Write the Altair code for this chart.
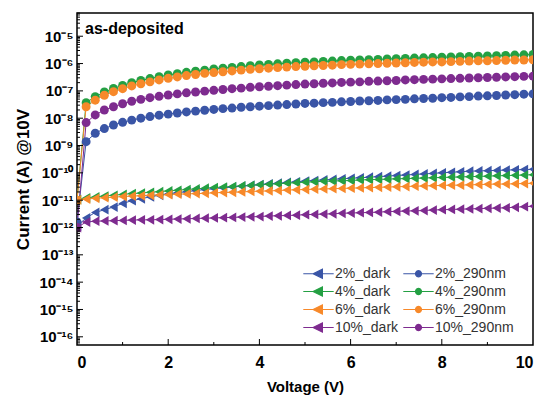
import altair as alt
import pandas as pd

FONT = "Liberation Sans"

# Voltage sweep (V), 0.2 V steps
V = [round(0.2 * i, 1) for i in range(51)]

# log10 of current (A)
B_dark = [-11.95, -11.65, -11.45, -11.35, -11.25, -11.12, -11.02, -10.95, -10.88, -10.82,
          -10.77, -10.73, -10.69, -10.65, -10.61, -10.58, -10.55, -10.52, -10.49, -10.46,
          -10.43, -10.40, -10.38, -10.35, -10.33, -10.30, -10.28, -10.26, -10.24, -10.22,
          -10.20, -10.18, -10.16, -10.14, -10.12, -10.10, -10.08, -10.06, -10.04, -10.02,
          -10.00, -9.98, -9.96, -9.94, -9.93, -9.92, -9.91, -9.90, -9.89, -9.88, -9.87]
B_uv = [-11.80, -8.86, -8.55, -8.38, -8.25, -8.15, -8.07, -8.00, -7.94, -7.89,
        -7.85, -7.81, -7.77, -7.74, -7.71, -7.68, -7.65, -7.63, -7.60, -7.58,
        -7.56, -7.54, -7.52, -7.50, -7.48, -7.46, -7.45, -7.43, -7.42, -7.40,
        -7.39, -7.37, -7.36, -7.35, -7.33, -7.32, -7.31, -7.29, -7.28, -7.27,
        -7.25, -7.24, -7.22, -7.21, -7.19, -7.18, -7.17, -7.15, -7.14, -7.12, -7.11]
G_dark = [-10.98, -10.92, -10.88, -10.85, -10.82, -10.79, -10.76, -10.74, -10.71, -10.69,
          -10.66, -10.64, -10.61, -10.59, -10.56, -10.54, -10.52, -10.50, -10.48, -10.46,
          -10.44, -10.42, -10.40, -10.38, -10.36, -10.34, -10.33, -10.31, -10.30, -10.29,
          -10.28, -10.26, -10.25, -10.24, -10.23, -10.22, -10.21, -10.20, -10.19, -10.18,
          -10.17, -10.16, -10.15, -10.14, -10.13, -10.12, -10.11, -10.10, -10.09, -10.08, -10.07]
G_uv = [-11.00, -7.43, -7.21, -7.04, -6.91, -6.80, -6.70, -6.62, -6.55, -6.48,
        -6.42, -6.37, -6.32, -6.28, -6.24, -6.20, -6.17, -6.14, -6.11, -6.08,
        -6.05, -6.03, -6.01, -5.99, -5.97, -5.95, -5.94, -5.92, -5.91, -5.89,
        -5.88, -5.87, -5.86, -5.85, -5.83, -5.82, -5.81, -5.80, -5.79, -5.78,
        -5.77, -5.76, -5.75, -5.74, -5.73, -5.72, -5.71, -5.70, -5.69, -5.68, -5.67]
O_dark = [-10.99, -10.96, -10.93, -10.91, -10.89, -10.87, -10.85, -10.84, -10.82, -10.81,
          -10.80, -10.78, -10.77, -10.76, -10.75, -10.73, -10.72, -10.71, -10.70, -10.68,
          -10.67, -10.66, -10.65, -10.63, -10.62, -10.61, -10.60, -10.59, -10.58, -10.57,
          -10.56, -10.55, -10.54, -10.53, -10.52, -10.51, -10.50, -10.49, -10.48, -10.47,
          -10.46, -10.45, -10.45, -10.44, -10.43, -10.42, -10.41, -10.41, -10.40, -10.39, -10.38]
O_uv = [-11.00, -7.58, -7.34, -7.16, -7.03, -6.92, -6.82, -6.74, -6.67, -6.60,
        -6.54, -6.49, -6.44, -6.40, -6.36, -6.33, -6.30, -6.27, -6.24, -6.21,
        -6.19, -6.17, -6.15, -6.13, -6.11, -6.10, -6.08, -6.07, -6.06, -6.04,
        -6.03, -6.02, -6.01, -6.00, -5.99, -5.98, -5.97, -5.96, -5.95, -5.94,
        -5.94, -5.93, -5.92, -5.91, -5.90, -5.90, -5.89, -5.88, -5.87, -5.87, -5.86]
P_dark = [-12.00, -11.80, -11.77, -11.76, -11.75, -11.74, -11.73, -11.72, -11.72, -11.71,
          -11.70, -11.69, -11.68, -11.67, -11.66, -11.65, -11.64, -11.63, -11.62, -11.61,
          -11.60, -11.58, -11.57, -11.56, -11.55, -11.53, -11.52, -11.51, -11.50, -11.48,
          -11.47, -11.46, -11.45, -11.44, -11.42, -11.41, -11.40, -11.39, -11.38, -11.36,
          -11.35, -11.34, -11.33, -11.32, -11.31, -11.30, -11.29, -11.28, -11.26, -11.24, -11.22]
P_uv = [-12.00, -8.16, -7.88, -7.70, -7.58, -7.47, -7.38, -7.31, -7.25, -7.20,
        -7.15, -7.11, -7.07, -7.04, -7.01, -6.98, -6.95, -6.92, -6.90, -6.87,
        -6.85, -6.83, -6.81, -6.79, -6.77, -6.75, -6.74, -6.72, -6.71, -6.69,
        -6.68, -6.67, -6.65, -6.64, -6.63, -6.62, -6.60, -6.59, -6.58, -6.57,
        -6.56, -6.55, -6.54, -6.53, -6.52, -6.51, -6.50, -6.49, -6.48, -6.47, -6.46]

names = ["2%_dark", "2%_290nm", "4%_dark", "4%_290nm",
         "6%_dark", "6%_290nm", "10%_dark", "10%_290nm"]
series = [B_dark, B_uv, G_dark, G_uv, O_dark, O_uv, P_dark, P_uv]
colors = ["#3a55a6", "#3a55a6", "#24a043", "#24a043",
          "#f7892a", "#f7892a", "#7e2b8f", "#7e2b8f"]

# legend glyphs: a line through a marker (symbol unit = 9.5 px)
TRI = "M-1.6,0L1.6,0M-0.57,0L0.41,-0.47L0.41,0.47Z"
DOT = ("M-1.6,0L1.6,0M0.32,0L0.277,0.16L0.16,0.277L0,0.32L-0.16,0.277L-0.277,0.16L-0.32,0"
       "L-0.277,-0.16L-0.16,-0.277L0,-0.32L0.16,-0.277L0.277,-0.16Z")
legend_shapes = [TRI, DOT] * 4

x_ticks = [0, 2, 4, 6, 8, 10]
x_minor = [1, 3, 5, 7, 9]
decades = list(range(-16, -4))
Y_LO, Y_HI = 10 ** -16.3, 10 ** -4.15

rows = []
for name, vals in zip(names, series):
    kind = "dark" if name.endswith("dark") else "uv"
    for v, lg in zip(V, vals):
        rows.append({"V": v, "I": 10 ** lg, "series": name, "kind": kind})
df = pd.DataFrame(rows)

sup = str.maketrans("-0123456789", "\u207b\u2070\u00b9\u00b2\u00b3\u2074\u2075\u2076\u2077\u2078\u2079")
expr = "".join(
    f"abs(log(datum.value)/LN10 - ({d})) < 0.01 ? '10{str(d).translate(sup)}' : " for d in decades
) + "''"

xscale = alt.Scale(domain=[0, 10], nice=False, zero=False)
yscale = alt.Scale(type="log", domain=[Y_LO, Y_HI], nice=False)
# data-driven domain (sorted) so the hidden colour legend never merges with the shown one
cscale = alt.Scale(range=colors)

X = alt.X("V:Q", scale=xscale,
          axis=alt.Axis(values=x_ticks, title="Voltage (V)", ticks=False, tickSize=0,
                        domain=False, grid=False, labelFont=FONT, labelFontSize=16,
                        labelFontWeight="bold", labelColor="black", labelPadding=9,
                        titleFont=FONT, titleFontSize=15, titleFontWeight="bold",
                        titleColor="black", titlePadding=9))
Y = alt.Y("I:Q", scale=yscale,
          axis=alt.Axis(values=[10.0 ** d for d in decades], labelExpr=expr,
                        title="Current (A) @10V", ticks=False, tickSize=0, domain=False,
                        grid=False, labelFont=FONT, labelFontSize=15, labelFontWeight="bold",
                        labelColor="black", labelPadding=4, titleFont=FONT, titleFontSize=17,
                        titleFontWeight="bold", titleColor="black", titlePadding=6))
Xn = alt.X("V:Q", scale=xscale)
Yn = alt.Y("I:Q", scale=yscale)
C = alt.Color("series:N", scale=cscale, sort=names, legend=None)

lines = alt.Chart(df).mark_line(strokeWidth=1, clip=True).encode(x=X, y=Y, color=C)
dark_pts = alt.Chart(df).transform_filter("datum.kind == 'dark'").mark_point(
    shape="triangle-left", filled=True, size=95, opacity=1, clip=True).encode(x=Xn, y=Yn, color=C)
uv_pts = alt.Chart(df).transform_filter("datum.kind == 'uv'").mark_point(
    shape="circle", filled=True, size=80, opacity=1, clip=True).encode(x=Xn, y=Yn, color=C)

leg = alt.Legend(title=None, orient="none", legendX=231, legendY=250, columns=2,
                 direction="horizontal",
                 symbolSize=361, symbolStrokeWidth=1.2, labelFont=FONT, labelFontSize=14,
                 labelColor="#333333", labelOffset=6, rowPadding=0, columnPadding=1,
                 padding=0)
legend_layer = alt.Chart(df).transform_filter("datum.V < 0").mark_point(
    filled=True, opacity=1).encode(
    x=Xn, y=Yn,
    fill=alt.Fill("series:N", scale=alt.Scale(domain=names, range=colors), legend=leg),
    stroke=alt.Stroke("series:N", scale=alt.Scale(domain=names, range=colors), legend=leg),
    shape=alt.Shape("series:N", scale=alt.Scale(domain=names, range=legend_shapes), legend=leg),
)

ymaj = pd.DataFrame({"I": [10.0 ** d for d in decades]})
ymin_vals = [k * 10.0 ** d for d in range(-17, -4) for k in range(2, 10)]
ymin = pd.DataFrame({"I": [v for v in ymin_vals if Y_LO < v < Y_HI]})
ytick_maj = alt.Chart(ymaj).mark_rule(color="black", strokeWidth=1).encode(
    y=Yn, x=alt.value(0), x2=alt.value(6))
ytick_min = alt.Chart(ymin).mark_rule(color="black", strokeWidth=1).encode(
    y=Yn, x=alt.value(0), x2=alt.value(3))
xtick_maj = alt.Chart(pd.DataFrame({"V": x_ticks[1:-1]})).mark_rule(color="black", strokeWidth=1).encode(
    x=Xn, y=alt.value(332), y2=alt.value(326))
xtick_min = alt.Chart(pd.DataFrame({"V": x_minor})).mark_rule(color="black", strokeWidth=1).encode(
    x=Xn, y=alt.value(332), y2=alt.value(329))

label = alt.Chart(pd.DataFrame({"t": ["as-deposited"]})).mark_text(
    align="left", baseline="middle", font=FONT, fontSize=16, fontWeight="bold", color="black"
).encode(text="t:N", x=alt.value(8), y=alt.value(16))

chart = alt.layer(
    lines, dark_pts, uv_pts, legend_layer, ytick_maj, ytick_min, xtick_maj, xtick_min, label
).properties(
    width=456, height=332,
    autosize=alt.AutoSizeParams(type="none"),
    padding={"left": 69, "top": 5, "right": 2, "bottom": 56},
).configure_view(stroke="black", strokeWidth=1.5)

chart.save("out.html", embed_options={"renderer": "svg", "actions": False})
